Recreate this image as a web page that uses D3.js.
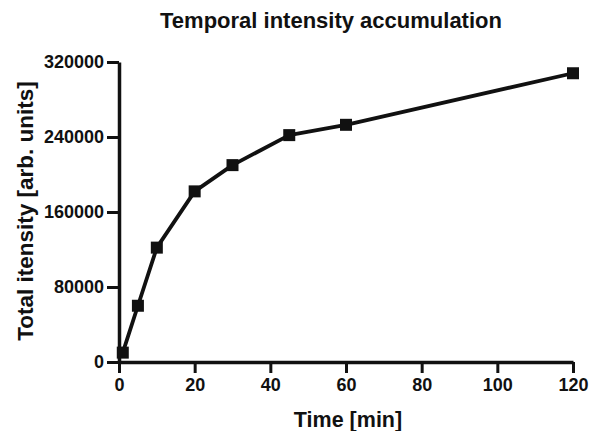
<!DOCTYPE html>
<html lang="en">
<head>
    <script src="https://d3js.org/d3.v7.min.js"></script>
    <style>
        body { margin: 0; background: #fff; }
        text { font-family: "Liberation Sans", Arial, sans-serif; font-weight: bold; fill: #111; }
        .title { font-size: 22px; text-anchor: middle; }
        .axis-title { font-size: 21.5px; text-anchor: middle; }
        .tick text { font-size: 18px; font-family: "Liberation Sans", Arial, sans-serif; font-weight: bold; fill: #111; }
    </style>
</head>
<body>
    <div id="chart"></div>
    <script>
        const times = [1, 5, 10, 20, 30, 45, 60, 120];
        const intensity = [10000, 60000, 122000, 182000, 210000, 242000, 253000, 308000];
        const xTicks = [0, 20, 40, 60, 80, 100, 120];
        const yTicks = [0, 80000, 160000, 240000, 320000];

        const width = 591;
        const height = 431;
        const margin = { top: 62, right: 18, bottom: 69, left: 119 };

        const svg = d3.select("#chart")
            .append("svg")
            .attr("width", width)
            .attr("height", height);

        const xScale = d3.scaleLinear().domain([0, 120]).range([margin.left, width - margin.right]);
        const yScale = d3.scaleLinear().domain([0, 320000]).range([height - margin.bottom, margin.top]);

        const xAxis = svg.append("g")
            .attr("transform", "translate(0," + (height - margin.bottom) + ")")
            .call(d3.axisBottom(xScale).tickValues(xTicks).tickSize(11).tickPadding(5).tickSizeOuter(0));

        const yAxis = svg.append("g")
            .attr("transform", "translate(" + margin.left + ",0)")
            .call(d3.axisLeft(yScale).tickValues(yTicks).tickSize(12).tickPadding(3).tickSizeOuter(0)
                .tickFormat(d3.format("d")));

        [xAxis, yAxis].forEach(ax => {
            ax.select(".domain").attr("stroke", "#111").attr("stroke-width", 3.5);
            ax.selectAll(".tick line").attr("stroke", "#111").attr("stroke-width", 3);
        });

        const data = times.map((t, i) => ({ x: t, y: intensity[i] }));

        svg.append("path")
            .datum(data)
            .attr("fill", "none")
            .attr("stroke", "#111")
            .attr("stroke-width", 3.8)
            .attr("stroke-linejoin", "round")
            .attr("d", d3.line().x(d => xScale(d.x)).y(d => yScale(d.y)));

        const s = 12;
        svg.selectAll(".marker")
            .data(data)
            .enter().append("rect")
            .attr("class", "marker")
            .attr("x", d => xScale(d.x) - s / 2)
            .attr("y", d => yScale(d.y) - s / 2)
            .attr("width", s)
            .attr("height", s)
            .attr("fill", "#111");

        svg.append("text")
            .attr("class", "title")
            .attr("x", 331)
            .attr("y", 28)
            .text("Temporal intensity accumulation");

        svg.append("text")
            .attr("class", "axis-title")
            .attr("x", 348)
            .attr("y", 427)
            .text("Time [min]");

        svg.append("text")
            .attr("class", "axis-title")
            .attr("transform", "rotate(-90)")
            .attr("x", -211)
            .attr("y", 33)
            .style("font-size", "22.5px")
            .text("Total itensity [arb. units]");
    </script>
</body>
</html>
